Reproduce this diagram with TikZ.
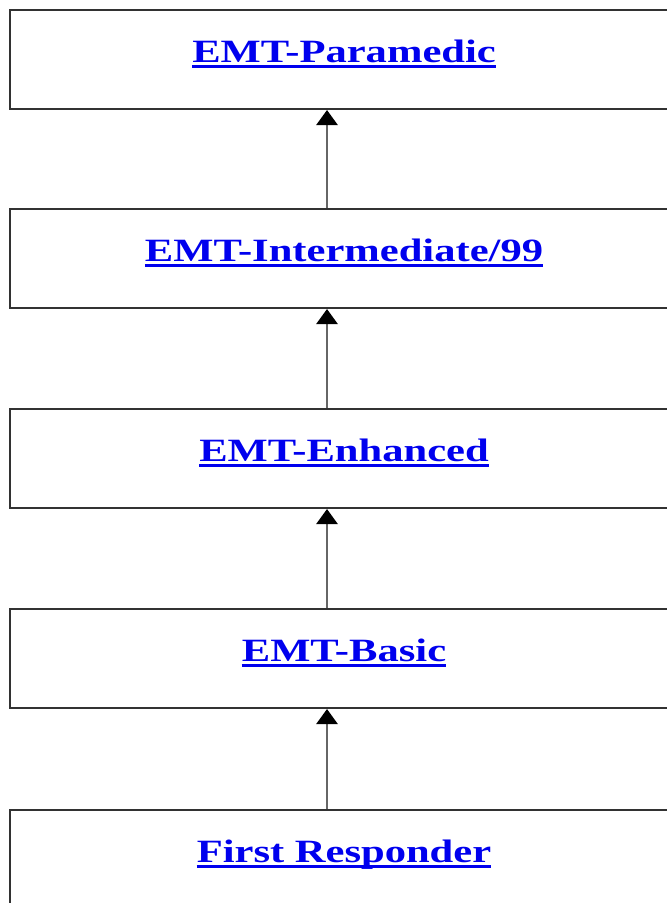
\documentclass[tikz,border=0pt]{standalone}
\usepackage{fontspec}
\setmainfont{Liberation Serif}
\usepackage{graphicx}
\usetikzlibrary{arrows.meta}
\definecolor{linkblue}{RGB}{0,0,238}
\definecolor{boxline}{RGB}{50,50,50}
\tikzset{
  levelbox/.style={draw=boxline, line width=2pt, minimum width=700pt, minimum height=99pt, anchor=north west, inner sep=0pt},
  leveltext/.style={text=linkblue, anchor=base, inner sep=0pt, font=\fontsize{32.5}{39}\selectfont\bfseries},
  uline/.style={linkblue, line width=3pt},
  uparrow/.style={draw=gray!80!black, line width=2.6pt, -{Triangle[width=21pt,length=15pt,color=black]}}
}
\newcommand{\stretchtxt}[1]{\scalebox{1.31}[1]{#1}}
\begin{document}
\begin{tikzpicture}[x=1pt,y=-1pt]
\useasboundingbox (0,0) rectangle (667,903);
\clip (0,0) rectangle (667,903);
\fill[white] (0,0) rectangle (667,903);
\coordinate (ax) at (327,0);
\node[levelbox] (b1) at (9,9) {};
\node[levelbox] (b2) at (9,208) {};
\node[levelbox] (b3) at (9,408) {};
\node[levelbox] (b4) at (9,608) {};
\node[levelbox] (b5) at (9,809) {};
\node[leveltext] (t1) at (344,62) {\stretchtxt{EMT-Paramedic}};
\node[leveltext] (t2) at (344,261) {\stretchtxt{EMT-Intermediate/99}};
\node[leveltext] (t3) at (344,461) {\stretchtxt{EMT-Enhanced}};
\node[leveltext] (t4) at (344,661) {\stretchtxt{EMT-Basic}};
\node[leveltext] (t5) at (344,862) {\stretchtxt{First Responder}};
\foreach \t in {t1,t2,t3,t4,t5}{
  \draw[uline] ([yshift=-4.5pt]\t.base west) -- ([yshift=-4.5pt]\t.base east);
}
\draw[uparrow] (b2.north -| ax) -- (b1.south -| ax);
\draw[uparrow] (b3.north -| ax) -- (b2.south -| ax);
\draw[uparrow] (b4.north -| ax) -- (b3.south -| ax);
\draw[uparrow] (b5.north -| ax) -- (b4.south -| ax);
\end{tikzpicture}
\end{document}
